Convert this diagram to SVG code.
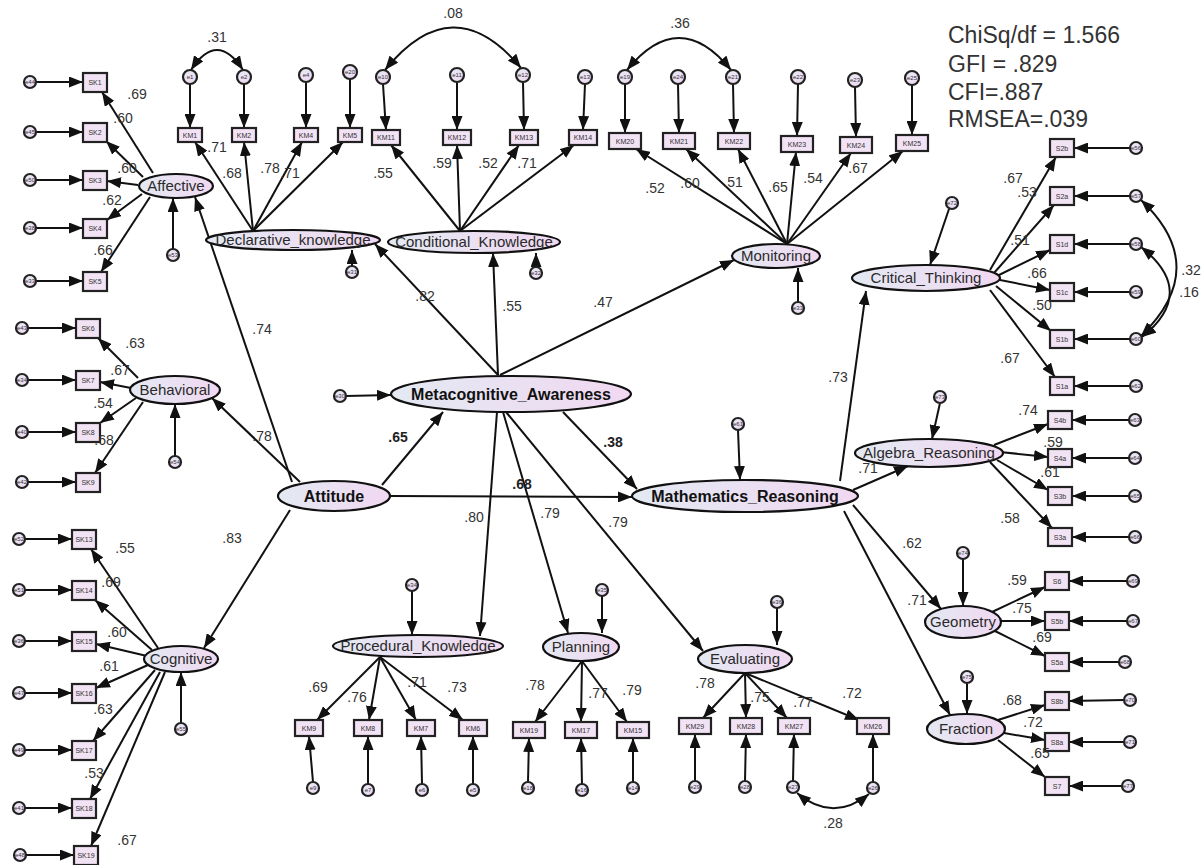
<svg xmlns="http://www.w3.org/2000/svg" width="1202" height="865" viewBox="0 0 1202 865">
<defs>
<linearGradient id="gE" x1="0" y1="0" x2="1" y2="0"><stop offset="0" stop-color="#e3e9f3"/><stop offset="1" stop-color="#f1d8f1"/></linearGradient>
<linearGradient id="gC" x1="0" y1="0" x2="1" y2="1"><stop offset="0" stop-color="#e6ecf6"/><stop offset="1" stop-color="#f0d6f0"/></linearGradient>
<marker id="ah" markerUnits="userSpaceOnUse" markerWidth="14" markerHeight="11" refX="14" refY="5.5" orient="auto"><path d="M0,0 L14,5.5 L0,11 z" fill="#111"/></marker>
<marker id="ah2" markerUnits="userSpaceOnUse" markerWidth="14" markerHeight="11" refX="14" refY="5.5" orient="auto-start-reverse"><path d="M0,0 L14,5.5 L0,11 z" fill="#111"/></marker>
<style>
.lv{fill:url(#gE);stroke:#111;stroke-width:2.2}
.ov{fill:#f1e2f4;stroke:#222;stroke-width:2.2}
.er{fill:url(#gC);stroke:#222;stroke-width:2.2}
.c line,.c path{stroke:#111;stroke-width:2;fill:none;marker-end:url(#ah)}
.c path.cv{marker-start:url(#ah2);marker-end:url(#ah2)}
text{font-family:"Liberation Sans",Arial,sans-serif;fill:#333}
.n{font-size:15px;text-anchor:middle;fill:#2a2a2a}
.nb{font-size:16px;font-weight:bold;text-anchor:middle;fill:#111}
.b{font-size:7px;text-anchor:middle;fill:#333}
.e{font-size:6px;text-anchor:middle;fill:#333}
.w{font-size:14px;text-anchor:middle;fill:#333}
.wb{font-size:14px;font-weight:bold;text-anchor:middle;fill:#222}
.fit{font-size:23px;fill:#333}
</style>
</defs>
<rect width="1202" height="865" fill="#fff"/>

<g id="connectors" class="c">
<line x1="36" y1="82" x2="83" y2="82"/><line x1="36" y1="132" x2="83" y2="132"/><line x1="36" y1="180" x2="83" y2="180"/><line x1="36" y1="228" x2="83" y2="228"/><line x1="36" y1="281" x2="83" y2="281"/>
<line x1="153" y1="173" x2="102" y2="92"/><line x1="143" y1="177" x2="106" y2="141"/><line x1="138" y1="185" x2="107" y2="181"/><line x1="142" y1="194" x2="107" y2="220"/><line x1="150" y1="197" x2="101" y2="272"/>
<line x1="173" y1="249" x2="173" y2="198"/>
<line x1="28" y1="328" x2="76" y2="328"/><line x1="28" y1="380" x2="76" y2="380"/><line x1="28" y1="432" x2="76" y2="432"/><line x1="28" y1="482" x2="76" y2="482"/>
<line x1="138" y1="378" x2="98" y2="338"/><line x1="131" y1="388" x2="100" y2="382"/><line x1="136" y1="398" x2="100" y2="423"/><line x1="143" y1="402" x2="95" y2="473"/>
<line x1="175" y1="456" x2="175" y2="404"/>
<line x1="25" y1="539" x2="72" y2="539"/><line x1="25" y1="590" x2="72" y2="590"/><line x1="25" y1="641" x2="72" y2="641"/><line x1="25" y1="693" x2="72" y2="693"/><line x1="25" y1="750" x2="72" y2="750"/><line x1="25" y1="808" x2="72" y2="808"/><line x1="26" y1="855" x2="74" y2="855"/>
<line x1="158" y1="648" x2="91" y2="549"/><line x1="152" y1="650" x2="95" y2="600"/><line x1="147" y1="656" x2="96" y2="644"/><line x1="148" y1="665" x2="96" y2="688"/><line x1="155" y1="670" x2="93" y2="741"/><line x1="160" y1="672" x2="90" y2="799"/><line x1="165" y1="672" x2="91" y2="846"/>
<line x1="181" y1="723" x2="181" y2="672"/>
<line x1="292" y1="482" x2="195" y2="197"/>
<line x1="300" y1="482" x2="212" y2="398"/>
<line x1="290" y1="510" x2="204" y2="648"/>
<line x1="382" y1="485" x2="443" y2="412"/>
<line x1="390" y1="496" x2="632" y2="497"/>
<line x1="346" y1="396" x2="391" y2="395"/>
<line x1="498" y1="375" x2="375" y2="244"/>
<line x1="498" y1="375" x2="493" y2="253"/>
<line x1="500" y1="375" x2="734" y2="260"/>
<line x1="563" y1="412" x2="637" y2="489"/>
<line x1="497" y1="412" x2="480" y2="636"/>
<line x1="503" y1="412" x2="568" y2="633"/>
<line x1="506" y1="412" x2="703" y2="651"/>
<line x1="190" y1="84" x2="190" y2="128"/><line x1="244" y1="84" x2="244" y2="128"/><line x1="306" y1="82" x2="306" y2="128"/><line x1="350" y1="79" x2="350" y2="128"/>
<line x1="253" y1="231" x2="195" y2="142"/><line x1="253" y1="231" x2="244" y2="142"/><line x1="253" y1="231" x2="302" y2="142"/><line x1="253" y1="231" x2="343" y2="142"/>
<line x1="352" y1="266" x2="352" y2="250"/>
<line x1="383" y1="84" x2="386" y2="130"/><line x1="457" y1="82" x2="457" y2="130"/><line x1="523" y1="82" x2="524" y2="130"/><line x1="585" y1="84" x2="583" y2="130"/>
<line x1="460" y1="231" x2="391" y2="145"/><line x1="460" y1="231" x2="457" y2="145"/><line x1="460" y1="231" x2="519" y2="145"/><line x1="460" y1="231" x2="574" y2="145"/>
<line x1="536" y1="267" x2="536" y2="253"/>
<line x1="625" y1="84" x2="625" y2="133"/><line x1="678" y1="84" x2="679" y2="133"/><line x1="733" y1="84" x2="734" y2="133"/><line x1="798" y1="84" x2="797" y2="136"/><line x1="855" y1="87" x2="856" y2="137"/><line x1="912" y1="85" x2="912" y2="135"/>
<line x1="787" y1="244" x2="636" y2="149"/><line x1="787" y1="244" x2="686" y2="149"/><line x1="787" y1="244" x2="738" y2="149"/><line x1="787" y1="244" x2="796" y2="152"/><line x1="787" y1="244" x2="851" y2="153"/><line x1="787" y1="244" x2="903" y2="151"/>
<line x1="798" y1="302" x2="798" y2="268"/>
<line x1="412" y1="591" x2="412" y2="635"/>
<line x1="380" y1="657" x2="317" y2="720"/><line x1="380" y1="657" x2="369" y2="720"/><line x1="380" y1="657" x2="416" y2="720"/><line x1="380" y1="657" x2="463" y2="720"/>
<line x1="313" y1="782" x2="309" y2="736"/><line x1="368" y1="784" x2="368" y2="736"/><line x1="422" y1="784" x2="421" y2="736"/><line x1="473" y1="784" x2="473" y2="736"/>
<line x1="602" y1="596" x2="602" y2="633"/>
<line x1="582" y1="661" x2="535" y2="722"/><line x1="582" y1="661" x2="581" y2="722"/><line x1="582" y1="661" x2="627" y2="722"/>
<line x1="528" y1="782" x2="529" y2="738"/><line x1="582" y1="784" x2="581" y2="738"/><line x1="633" y1="782" x2="633" y2="738"/>
<line x1="777" y1="608" x2="777" y2="645"/>
<line x1="745" y1="673" x2="703" y2="718"/><line x1="745" y1="673" x2="746" y2="718"/><line x1="745" y1="673" x2="787" y2="718"/><line x1="745" y1="673" x2="859" y2="720"/>
<line x1="695" y1="781" x2="695" y2="734"/><line x1="745" y1="781" x2="746" y2="734"/><line x1="793" y1="781" x2="794" y2="734"/><line x1="873" y1="782" x2="873" y2="734"/>
<line x1="738" y1="430" x2="740" y2="480"/>
<line x1="840" y1="481" x2="866" y2="291"/>
<line x1="853" y1="490" x2="908" y2="466"/>
<line x1="853" y1="505" x2="941" y2="609"/>
<line x1="844" y1="511" x2="950" y2="715"/>
<line x1="949" y1="209" x2="930" y2="265"/>
<line x1="990" y1="270" x2="1056" y2="157"/><line x1="994" y1="273" x2="1054" y2="205"/><line x1="997" y1="276" x2="1050" y2="250"/><line x1="1000" y1="280" x2="1050" y2="290"/><line x1="996" y1="286" x2="1051" y2="331"/><line x1="990" y1="290" x2="1055" y2="377"/>
<line x1="1130" y1="148" x2="1074" y2="148"/><line x1="1130" y1="196" x2="1074" y2="196"/><line x1="1130" y1="244" x2="1074" y2="244"/><line x1="1130" y1="292" x2="1074" y2="292"/><line x1="1130" y1="339" x2="1074" y2="339"/><line x1="1130" y1="386" x2="1074" y2="386"/>
<line x1="940" y1="403" x2="932" y2="439"/>
<line x1="994" y1="445" x2="1048" y2="424"/><line x1="1000" y1="452" x2="1048" y2="457"/><line x1="997" y1="460" x2="1048" y2="490"/><line x1="990" y1="462" x2="1052" y2="528"/>
<line x1="1129" y1="420" x2="1072" y2="420"/><line x1="1129" y1="458" x2="1072" y2="458"/><line x1="1129" y1="496" x2="1072" y2="496"/><line x1="1129" y1="537" x2="1072" y2="537"/>
<line x1="963" y1="559" x2="963" y2="606"/>
<line x1="992" y1="612" x2="1045" y2="587"/><line x1="1001" y1="621" x2="1045" y2="621"/><line x1="995" y1="631" x2="1045" y2="656"/>
<line x1="1127" y1="581" x2="1069" y2="581"/><line x1="1127" y1="621" x2="1069" y2="621"/><line x1="1119" y1="662" x2="1069" y2="662"/>
<line x1="967" y1="683" x2="967" y2="714"/>
<line x1="998" y1="720" x2="1045" y2="705"/><line x1="1004" y1="733" x2="1045" y2="740"/><line x1="998" y1="740" x2="1045" y2="777"/>
<line x1="1124" y1="700" x2="1069" y2="701"/><line x1="1124" y1="742" x2="1069" y2="742"/><line x1="1122" y1="786" x2="1069" y2="786"/>
<path class="cv" d="M 191 70 Q 217 30 243 70"/>
<path class="cv" d="M 385 70 Q 453 -14 521 68"/>
<path class="cv" d="M 627 70 Q 679 6 731 70"/>
<path class="cv" d="M 797 793 Q 833 823 869 794"/>
<path class="cv" d="M 1141 200 Q 1212 267 1141 336"/>
<path class="cv" d="M 1141 247 Q 1198 292 1142 337"/>
</g>

<g id="Affective"><ellipse class="lv" cx="176" cy="186" rx="37" ry="12"/><text class="n" x="176" y="191">Affective</text></g>
<g id="Behavioral"><ellipse class="lv" cx="175" cy="390" rx="45" ry="14"/><text class="n" x="175" y="395">Behavioral</text></g>
<g id="Cognitive"><ellipse class="lv" cx="181" cy="659" rx="37" ry="13"/><text class="n" x="181" y="664">Cognitive</text></g>
<g id="Attitude"><ellipse class="lv" cx="334" cy="496" rx="56" ry="15"/><text class="nb" x="334" y="502">Attitude</text></g>
<g id="Metacognitive_Awareness"><ellipse class="lv" cx="511" cy="394" rx="120" ry="18"/><text class="nb" x="511" y="400">Metacognitive_Awareness</text></g>
<g id="Mathematics_Reasoning"><ellipse class="lv" cx="745" cy="496" rx="113" ry="16"/><text class="nb" x="745" y="502">Mathematics_Reasoning</text></g>
<g id="Declarative_knowledge"><ellipse class="lv" cx="293" cy="240" rx="87" ry="10"/><text class="n" x="293" y="245">Declarative_knowledge</text></g>
<g id="Conditional_Knowledge"><ellipse class="lv" cx="474" cy="242" rx="86" ry="11"/><text class="n" x="474" y="247">Conditional_Knowledge</text></g>
<g id="Monitoring"><ellipse class="lv" cx="776" cy="256" rx="44" ry="12"/><text class="n" x="776" y="261">Monitoring</text></g>
<g id="Procedural_Knowledge"><ellipse class="lv" cx="418" cy="646" rx="85" ry="11"/><text class="n" x="418" y="651">Procedural_Knowledge</text></g>
<g id="Planning"><ellipse class="lv" cx="581" cy="647" rx="38" ry="14"/><text class="n" x="581" y="652">Planning</text></g>
<g id="Evaluating"><ellipse class="lv" cx="745" cy="659" rx="47" ry="14"/><text class="n" x="745" y="664">Evaluating</text></g>
<g id="Critical_Thinking"><ellipse class="lv" cx="926" cy="278" rx="74" ry="13"/><text class="n" x="926" y="283">Critical_Thinking</text></g>
<g id="Algebra_Reasoning"><ellipse class="lv" cx="929" cy="453" rx="74" ry="14"/><text class="n" x="929" y="458">Algebra_Reasoning</text></g>
<g id="Geometry"><ellipse class="lv" cx="963" cy="622" rx="38" ry="16"/><text class="n" x="963" y="627">Geometry</text></g>
<g id="Fraction"><ellipse class="lv" cx="966" cy="729" rx="39" ry="15"/><text class="n" x="966" y="734">Fraction</text></g>

<g id="SK1"><rect class="ov" x="83" y="73" width="24" height="19"/><text class="b" x="95" y="85">SK1</text></g>
<g id="SK2"><rect class="ov" x="83" y="123" width="24" height="19"/><text class="b" x="95" y="135">SK2</text></g>
<g id="SK3"><rect class="ov" x="83" y="171" width="24" height="19"/><text class="b" x="95" y="183">SK3</text></g>
<g id="SK4"><rect class="ov" x="83" y="219" width="24" height="19"/><text class="b" x="95" y="231">SK4</text></g>
<g id="SK5"><rect class="ov" x="83" y="272" width="24" height="19"/><text class="b" x="95" y="284">SK5</text></g>
<g id="SK6"><rect class="ov" x="76" y="319" width="24" height="19"/><text class="b" x="88" y="331">SK6</text></g>
<g id="SK7"><rect class="ov" x="76" y="371" width="24" height="19"/><text class="b" x="88" y="383">SK7</text></g>
<g id="SK8"><rect class="ov" x="76" y="423" width="24" height="19"/><text class="b" x="88" y="435">SK8</text></g>
<g id="SK9"><rect class="ov" x="76" y="473" width="24" height="19"/><text class="b" x="88" y="485">SK9</text></g>
<g id="SK13"><rect class="ov" x="72" y="530" width="24" height="19"/><text class="b" x="84" y="542">SK13</text></g>
<g id="SK14"><rect class="ov" x="72" y="581" width="24" height="19"/><text class="b" x="84" y="593">SK14</text></g>
<g id="SK15"><rect class="ov" x="72" y="632" width="24" height="19"/><text class="b" x="84" y="644">SK15</text></g>
<g id="SK16"><rect class="ov" x="72" y="684" width="24" height="19"/><text class="b" x="84" y="696">SK16</text></g>
<g id="SK17"><rect class="ov" x="72" y="741" width="24" height="19"/><text class="b" x="84" y="753">SK17</text></g>
<g id="SK18"><rect class="ov" x="72" y="799" width="24" height="19"/><text class="b" x="84" y="811">SK18</text></g>
<g id="SK19"><rect class="ov" x="74" y="846" width="24" height="19"/><text class="b" x="86" y="858">SK19</text></g>

<g id="KM1"><rect class="ov" x="178" y="128" width="24" height="14"/><text class="b" x="190" y="138">KM1</text></g>
<g id="KM2"><rect class="ov" x="232" y="128" width="24" height="14"/><text class="b" x="244" y="138">KM2</text></g>
<g id="KM4"><rect class="ov" x="294" y="128" width="24" height="14"/><text class="b" x="306" y="138">KM4</text></g>
<g id="KM5"><rect class="ov" x="338" y="128" width="24" height="14"/><text class="b" x="350" y="138">KM5</text></g>
<g id="KM11"><rect class="ov" x="372" y="130" width="28" height="15"/><text class="b" x="386" y="140">KM11</text></g>
<g id="KM12"><rect class="ov" x="443" y="130" width="28" height="15"/><text class="b" x="457" y="140">KM12</text></g>
<g id="KM13"><rect class="ov" x="510" y="130" width="28" height="15"/><text class="b" x="524" y="140">KM13</text></g>
<g id="KM14"><rect class="ov" x="569" y="130" width="28" height="15"/><text class="b" x="583" y="140">KM14</text></g>
<g id="KM20"><rect class="ov" x="609" y="133" width="32" height="16"/><text class="b" x="625" y="144">KM20</text></g>
<g id="KM21"><rect class="ov" x="663" y="133" width="32" height="16"/><text class="b" x="679" y="144">KM21</text></g>
<g id="KM22"><rect class="ov" x="718" y="133" width="32" height="16"/><text class="b" x="734" y="144">KM22</text></g>
<g id="KM23"><rect class="ov" x="781" y="136" width="32" height="16"/><text class="b" x="797" y="147">KM23</text></g>
<g id="KM24"><rect class="ov" x="840" y="137" width="32" height="16"/><text class="b" x="856" y="148">KM24</text></g>
<g id="KM25"><rect class="ov" x="896" y="135" width="32" height="16"/><text class="b" x="912" y="146">KM25</text></g>
<g id="KM9"><rect class="ov" x="295" y="720" width="28" height="16"/><text class="b" x="309" y="731">KM9</text></g>
<g id="KM8"><rect class="ov" x="354" y="720" width="28" height="16"/><text class="b" x="368" y="731">KM8</text></g>
<g id="KM7"><rect class="ov" x="407" y="720" width="28" height="16"/><text class="b" x="421" y="731">KM7</text></g>
<g id="KM6"><rect class="ov" x="459" y="720" width="28" height="16"/><text class="b" x="473" y="731">KM6</text></g>
<g id="KM19"><rect class="ov" x="513" y="722" width="32" height="16"/><text class="b" x="529" y="733">KM19</text></g>
<g id="KM17"><rect class="ov" x="565" y="722" width="32" height="16"/><text class="b" x="581" y="733">KM17</text></g>
<g id="KM15"><rect class="ov" x="617" y="722" width="32" height="16"/><text class="b" x="633" y="733">KM15</text></g>
<g id="KM29"><rect class="ov" x="679" y="718" width="32" height="16"/><text class="b" x="695" y="729">KM29</text></g>
<g id="KM28"><rect class="ov" x="730" y="718" width="32" height="16"/><text class="b" x="746" y="729">KM28</text></g>
<g id="KM27"><rect class="ov" x="778" y="718" width="32" height="16"/><text class="b" x="794" y="729">KM27</text></g>
<g id="KM26"><rect class="ov" x="857" y="718" width="32" height="16"/><text class="b" x="873" y="729">KM26</text></g>

<g id="S2b"><rect class="ov" x="1050" y="139" width="24" height="18"/><text class="b" x="1062" y="151">S2b</text></g>
<g id="S2a"><rect class="ov" x="1050" y="187" width="24" height="18"/><text class="b" x="1062" y="199">S2a</text></g>
<g id="S1d"><rect class="ov" x="1050" y="235" width="24" height="18"/><text class="b" x="1062" y="247">S1d</text></g>
<g id="S1c"><rect class="ov" x="1050" y="283" width="24" height="18"/><text class="b" x="1062" y="295">S1c</text></g>
<g id="S1b"><rect class="ov" x="1050" y="330" width="24" height="18"/><text class="b" x="1062" y="342">S1b</text></g>
<g id="S1a"><rect class="ov" x="1050" y="377" width="24" height="18"/><text class="b" x="1062" y="389">S1a</text></g>
<g id="S4b"><rect class="ov" x="1048" y="411" width="24" height="18"/><text class="b" x="1060" y="423">S4b</text></g>
<g id="S4a"><rect class="ov" x="1048" y="449" width="24" height="18"/><text class="b" x="1060" y="461">S4a</text></g>
<g id="S3b"><rect class="ov" x="1048" y="487" width="24" height="18"/><text class="b" x="1060" y="499">S3b</text></g>
<g id="S3a"><rect class="ov" x="1048" y="528" width="24" height="18"/><text class="b" x="1060" y="540">S3a</text></g>
<g id="S6"><rect class="ov" x="1045" y="572" width="24" height="18"/><text class="b" x="1057" y="584">S6</text></g>
<g id="S5b"><rect class="ov" x="1045" y="612" width="24" height="18"/><text class="b" x="1057" y="624">S5b</text></g>
<g id="S5a"><rect class="ov" x="1045" y="653" width="24" height="18"/><text class="b" x="1057" y="665">S5a</text></g>
<g id="S8b"><rect class="ov" x="1045" y="692" width="24" height="18"/><text class="b" x="1057" y="704">S8b</text></g>
<g id="S8a"><rect class="ov" x="1045" y="733" width="24" height="18"/><text class="b" x="1057" y="745">S8a</text></g>
<g id="S7"><rect class="ov" x="1045" y="777" width="24" height="18"/><text class="b" x="1057" y="789">S7</text></g>

<g id="errors">
<g id="e44"><circle class="er" cx="30" cy="82" r="6"/><text class="e" x="30" y="84">e44</text></g>
<g id="e45"><circle class="er" cx="30" cy="132" r="6"/><text class="e" x="30" y="134">e45</text></g>
<g id="e50"><circle class="er" cx="30" cy="180" r="6"/><text class="e" x="30" y="182">e50</text></g>
<g id="e38"><circle class="er" cx="30" cy="228" r="6"/><text class="e" x="30" y="230">e38</text></g>
<g id="e33"><circle class="er" cx="30" cy="281" r="6"/><text class="e" x="30" y="283">e33</text></g>
<g id="e53"><circle class="er" cx="173" cy="255" r="6"/><text class="e" x="173" y="257">e53</text></g>
<g id="e43"><circle class="er" cx="22" cy="328" r="6"/><text class="e" x="22" y="330">e43</text></g>
<g id="e34"><circle class="er" cx="22" cy="380" r="6"/><text class="e" x="22" y="382">e34</text></g>
<g id="e40"><circle class="er" cx="22" cy="432" r="6"/><text class="e" x="22" y="434">e40</text></g>
<g id="e42"><circle class="er" cx="22" cy="482" r="6"/><text class="e" x="22" y="484">e42</text></g>
<g id="e54"><circle class="er" cx="175" cy="462" r="6"/><text class="e" x="175" y="464">e54</text></g>
<g id="e52"><circle class="er" cx="19" cy="539" r="6"/><text class="e" x="19" y="541">e52</text></g>
<g id="e51"><circle class="er" cx="19" cy="590" r="6"/><text class="e" x="19" y="592">e51</text></g>
<g id="e36"><circle class="er" cx="19" cy="641" r="6"/><text class="e" x="19" y="643">e36</text></g>
<g id="e47"><circle class="er" cx="19" cy="693" r="6"/><text class="e" x="19" y="695">e47</text></g>
<g id="e49"><circle class="er" cx="19" cy="750" r="6"/><text class="e" x="19" y="752">e49</text></g>
<g id="e41"><circle class="er" cx="19" cy="808" r="6"/><text class="e" x="19" y="810">e41</text></g>
<g id="e48"><circle class="er" cx="20" cy="855" r="6"/><text class="e" x="20" y="857">e48</text></g>
<g id="e55"><circle class="er" cx="181" cy="729" r="6"/><text class="e" x="181" y="731">e55</text></g>
<g id="e1"><circle class="er" cx="190" cy="77" r="7"/><text class="e" x="190" y="79">e1</text></g>
<g id="e2"><circle class="er" cx="244" cy="77" r="7"/><text class="e" x="244" y="79">e2</text></g>
<g id="e4"><circle class="er" cx="306" cy="75" r="7"/><text class="e" x="306" y="77">e4</text></g>
<g id="e20"><circle class="er" cx="350" cy="72" r="7"/><text class="e" x="350" y="74">e20</text></g>
<g id="e31"><circle class="er" cx="352" cy="272" r="6"/><text class="e" x="352" y="274">e31</text></g>
<g id="e10"><circle class="er" cx="383" cy="77" r="7"/><text class="e" x="383" y="79">e10</text></g>
<g id="e11"><circle class="er" cx="457" cy="75" r="7"/><text class="e" x="457" y="77">e11</text></g>
<g id="e12"><circle class="er" cx="523" cy="75" r="7"/><text class="e" x="523" y="77">e12</text></g>
<g id="e13"><circle class="er" cx="585" cy="77" r="7"/><text class="e" x="585" y="79">e13</text></g>
<g id="e32"><circle class="er" cx="536" cy="273" r="6"/><text class="e" x="536" y="275">e32</text></g>
<g id="e19"><circle class="er" cx="625" cy="77" r="7"/><text class="e" x="625" y="79">e19</text></g>
<g id="e24"><circle class="er" cx="678" cy="77" r="7"/><text class="e" x="678" y="79">e24</text></g>
<g id="e21"><circle class="er" cx="733" cy="77" r="7"/><text class="e" x="733" y="79">e21</text></g>
<g id="e22"><circle class="er" cx="798" cy="77" r="7"/><text class="e" x="798" y="79">e22</text></g>
<g id="e23"><circle class="er" cx="855" cy="80" r="7"/><text class="e" x="855" y="82">e23</text></g>
<g id="e25"><circle class="er" cx="912" cy="78" r="7"/><text class="e" x="912" y="80">e25</text></g>
<g id="e33m"><circle class="er" cx="798" cy="308" r="6"/><text class="e" x="798" y="310">e33</text></g>
<g id="e30"><circle class="er" cx="340" cy="396" r="6"/><text class="e" x="340" y="398">e30</text></g>
<g id="e34p"><circle class="er" cx="412" cy="585" r="6"/><text class="e" x="412" y="587">e34</text></g>
<g id="e9"><circle class="er" cx="313" cy="788" r="6"/><text class="e" x="313" y="790">e9</text></g>
<g id="e7"><circle class="er" cx="368" cy="790" r="6"/><text class="e" x="368" y="792">e7</text></g>
<g id="e6"><circle class="er" cx="422" cy="790" r="6"/><text class="e" x="422" y="792">e6</text></g>
<g id="e5"><circle class="er" cx="473" cy="790" r="6"/><text class="e" x="473" y="792">e5</text></g>
<g id="e35"><circle class="er" cx="602" cy="590" r="6"/><text class="e" x="602" y="592">e35</text></g>
<g id="e18"><circle class="er" cx="528" cy="788" r="6"/><text class="e" x="528" y="790">e18</text></g>
<g id="e16"><circle class="er" cx="582" cy="790" r="6"/><text class="e" x="582" y="792">e16</text></g>
<g id="e14"><circle class="er" cx="633" cy="788" r="6"/><text class="e" x="633" y="790">e14</text></g>
<g id="e36e"><circle class="er" cx="777" cy="602" r="6"/><text class="e" x="777" y="604">e36</text></g>
<g id="e29"><circle class="er" cx="695" cy="787" r="6"/><text class="e" x="695" y="789">e29</text></g>
<g id="e28"><circle class="er" cx="745" cy="787" r="6"/><text class="e" x="745" y="789">e28</text></g>
<g id="e27"><circle class="er" cx="793" cy="787" r="6"/><text class="e" x="793" y="789">e27</text></g>
<g id="e26"><circle class="er" cx="873" cy="788" r="6"/><text class="e" x="873" y="790">e26</text></g>
<g id="e61"><circle class="er" cx="738" cy="424" r="6"/><text class="e" x="738" y="426">e61</text></g>
<g id="e72"><circle class="er" cx="952" cy="203" r="6"/><text class="e" x="952" y="205">e72</text></g>
<g id="e56"><circle class="er" cx="1136" cy="148" r="6"/><text class="e" x="1136" y="150">e56</text></g>
<g id="e57"><circle class="er" cx="1136" cy="196" r="6"/><text class="e" x="1136" y="198">e57</text></g>
<g id="e58"><circle class="er" cx="1136" cy="244" r="6"/><text class="e" x="1136" y="246">e58</text></g>
<g id="e59"><circle class="er" cx="1136" cy="292" r="6"/><text class="e" x="1136" y="294">e59</text></g>
<g id="e60"><circle class="er" cx="1136" cy="339" r="6"/><text class="e" x="1136" y="341">e60</text></g>
<g id="e62"><circle class="er" cx="1136" cy="386" r="6"/><text class="e" x="1136" y="388">e62</text></g>
<g id="e73"><circle class="er" cx="940" cy="397" r="6"/><text class="e" x="940" y="399">e73</text></g>
<g id="e63"><circle class="er" cx="1135" cy="420" r="6"/><text class="e" x="1135" y="422">e63</text></g>
<g id="e64"><circle class="er" cx="1135" cy="458" r="6"/><text class="e" x="1135" y="460">e64</text></g>
<g id="e65"><circle class="er" cx="1135" cy="496" r="6"/><text class="e" x="1135" y="498">e65</text></g>
<g id="e66"><circle class="er" cx="1135" cy="537" r="6"/><text class="e" x="1135" y="539">e66</text></g>
<g id="e74"><circle class="er" cx="963" cy="553" r="6"/><text class="e" x="963" y="555">e74</text></g>
<g id="e69"><circle class="er" cx="1133" cy="581" r="6"/><text class="e" x="1133" y="583">e69</text></g>
<g id="e67"><circle class="er" cx="1133" cy="621" r="6"/><text class="e" x="1133" y="623">e67</text></g>
<g id="e68"><circle class="er" cx="1125" cy="662" r="6"/><text class="e" x="1125" y="664">e68</text></g>
<g id="e75"><circle class="er" cx="967" cy="677" r="6"/><text class="e" x="967" y="679">e75</text></g>
<g id="e70"><circle class="er" cx="1130" cy="700" r="6"/><text class="e" x="1130" y="702">e70</text></g>
<g id="e71"><circle class="er" cx="1130" cy="742" r="6"/><text class="e" x="1130" y="744">e71</text></g>
<g id="e77"><circle class="er" cx="1128" cy="786" r="6"/><text class="e" x="1128" y="788">e77</text></g>
</g>

<g id="labels">
<text class="w" x="137" y="99">.69</text><text class="w" x="123" y="123">.60</text><text class="w" x="127" y="173">.60</text><text class="w" x="112" y="205">.62</text><text class="w" x="103" y="255">.66</text>
<text class="w" x="135" y="348">.63</text><text class="w" x="120" y="375">.67</text><text class="w" x="103" y="408">.54</text><text class="w" x="104" y="445">.68</text>
<text class="w" x="125" y="553">.55</text><text class="w" x="111" y="587">.69</text><text class="w" x="117" y="637">.60</text><text class="w" x="109" y="671">.61</text><text class="w" x="103" y="714">.63</text><text class="w" x="94" y="778">.53</text><text class="w" x="127" y="845">.67</text>
<text class="w" x="262" y="334">.74</text><text class="w" x="262" y="441">.78</text><text class="w" x="232" y="543">.83</text>
<text class="wb" x="398" y="442">.65</text><text class="wb" x="613" y="447">.38</text><text class="wb" x="522" y="489">.68</text>
<text class="w" x="425" y="301">.82</text><text class="w" x="512" y="311">.55</text><text class="w" x="603" y="307">.47</text>
<text class="w" x="474" y="522">.80</text><text class="w" x="550" y="518">.79</text><text class="w" x="618" y="527">.79</text>
<text class="w" x="838" y="382">.73</text><text class="w" x="868" y="473">.71</text><text class="w" x="912" y="548">.62</text><text class="w" x="917" y="605">.71</text>
<text class="w" x="217" y="42">.31</text><text class="w" x="453" y="18">.08</text><text class="w" x="680" y="28">.36</text>
<text class="w" x="217" y="152">.71</text><text class="w" x="232" y="178">.68</text><text class="w" x="270" y="173">.78</text><text class="w" x="290" y="178">.71</text>
<text class="w" x="383" y="178">.55</text><text class="w" x="442" y="168">.59</text><text class="w" x="488" y="168">.52</text><text class="w" x="527" y="168">.71</text>
<text class="w" x="655" y="193">.52</text><text class="w" x="690" y="188">.60</text><text class="w" x="733" y="187">.51</text><text class="w" x="778" y="192">.65</text><text class="w" x="813" y="183">.54</text><text class="w" x="858" y="173">.67</text>
<text class="w" x="1013" y="183">.67</text><text class="w" x="1027" y="197">.53</text><text class="w" x="1020" y="245">.51</text><text class="w" x="1037" y="278">.66</text><text class="w" x="1042" y="310">.50</text><text class="w" x="1010" y="363">.67</text>
<text class="w" x="1191" y="275">.32</text><text class="w" x="1189" y="297">.16</text>
<text class="w" x="1028" y="415">.74</text><text class="w" x="1053" y="447">.59</text><text class="w" x="1050" y="477">.61</text><text class="w" x="1010" y="523">.58</text>
<text class="w" x="1017" y="585">.59</text><text class="w" x="1022" y="613">.75</text><text class="w" x="1042" y="642">.69</text>
<text class="w" x="1012" y="705">.68</text><text class="w" x="1033" y="727">.72</text><text class="w" x="1040" y="758">.65</text>
<text class="w" x="318" y="692">.69</text><text class="w" x="357" y="702">.76</text><text class="w" x="417" y="687">.71</text><text class="w" x="457" y="692">.73</text>
<text class="w" x="535" y="690">.78</text><text class="w" x="598" y="698">.77</text><text class="w" x="632" y="695">.79</text>
<text class="w" x="705" y="688">.78</text><text class="w" x="760" y="702">.75</text><text class="w" x="803" y="707">.77</text><text class="w" x="852" y="698">.72</text>
<text class="w" x="833" y="828">.28</text>
</g>

<g id="fit">
<text class="fit" x="948" y="43">ChiSq/df = 1.566</text>
<text class="fit" x="948" y="72">GFI = .829</text>
<text class="fit" x="948" y="100">CFI=.887</text>
<text class="fit" x="948" y="127">RMSEA=.039</text>
</g>
</svg>
